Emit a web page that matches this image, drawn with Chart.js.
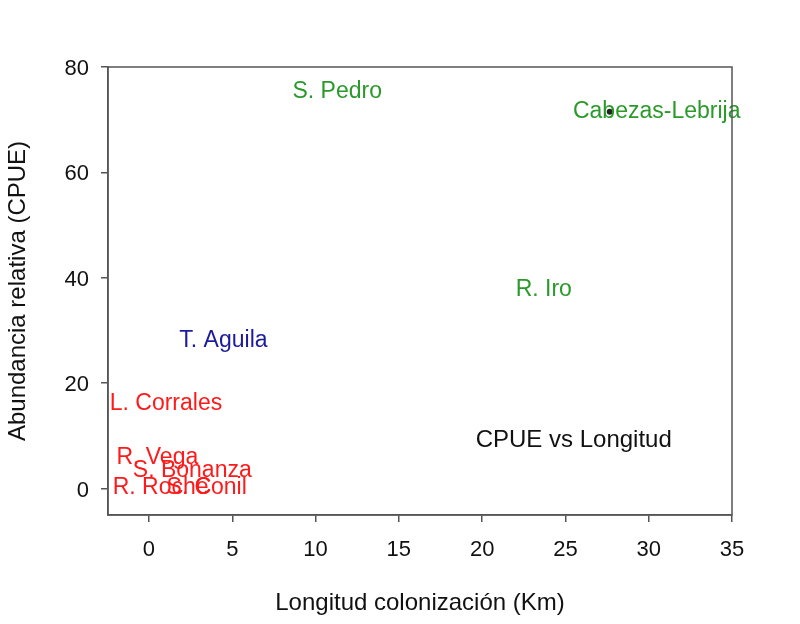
<!DOCTYPE html>
<html><head><meta charset="utf-8">
<script src="https://cdn.jsdelivr.net/npm/chart.js@4.4.1/dist/chart.umd.min.js"></script>
<style>html,body{margin:0;padding:0;background:#fff}#wrap{width:800px;height:624px}</style>
</head><body><div id="wrap"><canvas id="c" width="800" height="624"></canvas></div>
<script>
// Site labels placed at their (longitud, CPUE) positions
const siteNames  = ["S. Pedro","Cabezas-Lebrija","R. Iro","T. Aguila","L. Corrales","R. Vega","S. Bonanza","R. Roche","S. C","Conil"];
const siteX      = [11.3, 30.48, 23.7, 4.47, 1.02, 0.5, 2.6, 0.7, 2.4, 4.3];
const siteY      = [75.3, 71.6, 37.8, 28.0, 16.1, 5.8, 3.4, 0.2, 0.2, 0.2];
const siteColors = ["#2a9a2a","#2a9a2a","#2a9a2a","#1c1c9a","#ff1a1a","#ff1a1a","#ff1a1a","#ff1a1a","#ff1a1a","#ff1a1a"];
// Single plotted point
const pointX = [27.66];
const pointY = [71.5];
// Annotation text
const noteText = ["CPUE vs Longitud"];
const noteX = [25.5];
const noteY = [9.1];
// Axes
const xTicks = [0,5,10,15,20,25,30,35];
const yTicks = [0,20,40,60,80];
const xRange = [-2.46, 35];
const yRange = [-5, 80];

const FONT = "'Liberation Sans', Arial, Helvetica, sans-serif";

const textPlugin = {
  id: 'textLabels',
  afterDatasetsDraw(chart) {
    const ctx = chart.ctx;
    ctx.save();
    chart.data.datasets.forEach((ds, di) => {
      if (!ds.textLabels) return;
      const meta = chart.getDatasetMeta(di);
      meta.data.forEach((el, i) => {
        ctx.font = ds.textSize + "px " + FONT;
        ctx.fillStyle = ds.textColors[i];
        ctx.textAlign = 'center';
        ctx.textBaseline = 'middle';
        ctx.fillText(ds.textLabels[i], el.x, el.y);
      });
    });
    ctx.restore();
  }
};
const boxPlugin = {
  id: 'box',
  afterDraw(chart) {
    const a = chart.chartArea, ctx = chart.ctx;
    ctx.save();
    ctx.strokeStyle = '#555';
    ctx.lineWidth = 1.5;
    ctx.strokeRect(a.left, a.top, a.right - a.left, a.bottom - a.top);
    ctx.restore();
  }
};

new Chart(document.getElementById('c'), {
  type: 'scatter',
  data: {
    datasets: [
      {
        label: 'sites',
        data: siteX.map((x, i) => ({x: x, y: siteY[i]})),
        pointRadius: 0,
        textLabels: siteNames,
        textColors: siteColors,
        textSize: 23
      },
      {
        label: 'note',
        data: noteX.map((x, i) => ({x: x, y: noteY[i]})),
        pointRadius: 0,
        textLabels: noteText,
        textColors: ["#111111"],
        textSize: 24
      },
      {
        label: 'point',
        data: pointX.map((x, i) => ({x: x, y: pointY[i]})),
        pointRadius: 3,
        pointBackgroundColor: '#222',
        pointBorderColor: '#222',
        borderWidth: 0
      }
    ]
  },
  options: {
    responsive: false,
    animation: false,
    devicePixelRatio: 1,
    layout: { padding: { top: 67, right: 68, left: 0, bottom: 0 } },
    plugins: { legend: { display: false }, tooltip: { enabled: false } },
    scales: {
      x: {
        type: 'linear',
        min: xRange[0], max: xRange[1],
        afterBuildTicks: s => { s.ticks = xTicks.map(v => ({value: v})); },
        afterFit: s => { s.height = 109; },
        grid: { drawOnChartArea: false, drawTicks: true, tickLength: 7, color: '#555', lineWidth: 1.5 },
        border: { display: true, color: '#555', width: 1.5 },
        ticks: { color: '#111', padding: 15, font: { size: 22, family: FONT }, maxRotation: 0 },
        title: { display: true, text: 'Longitud colonización (Km)', color: '#111',
                 font: { size: 24, family: FONT }, padding: { top: 0, bottom: 6 } }
      },
      y: {
        type: 'linear',
        min: yRange[0], max: yRange[1],
        afterBuildTicks: s => { s.ticks = yTicks.map(v => ({value: v})); },
        afterFit: s => { s.width = 108; },
        grid: { drawOnChartArea: false, drawTicks: true, tickLength: 7, color: '#555', lineWidth: 1.5 },
        border: { display: true, color: '#555', width: 1.5 },
        ticks: { color: '#111', padding: 12, labelOffset: 2, font: { size: 22, family: FONT } },
        title: { display: true, text: 'Abundancia relativa (CPUE)', color: '#111',
                 font: { size: 24, family: FONT }, padding: { top: 4, bottom: 0 } }
      }
    }
  },
  plugins: [textPlugin, boxPlugin]
});
</script>
</body></html>
